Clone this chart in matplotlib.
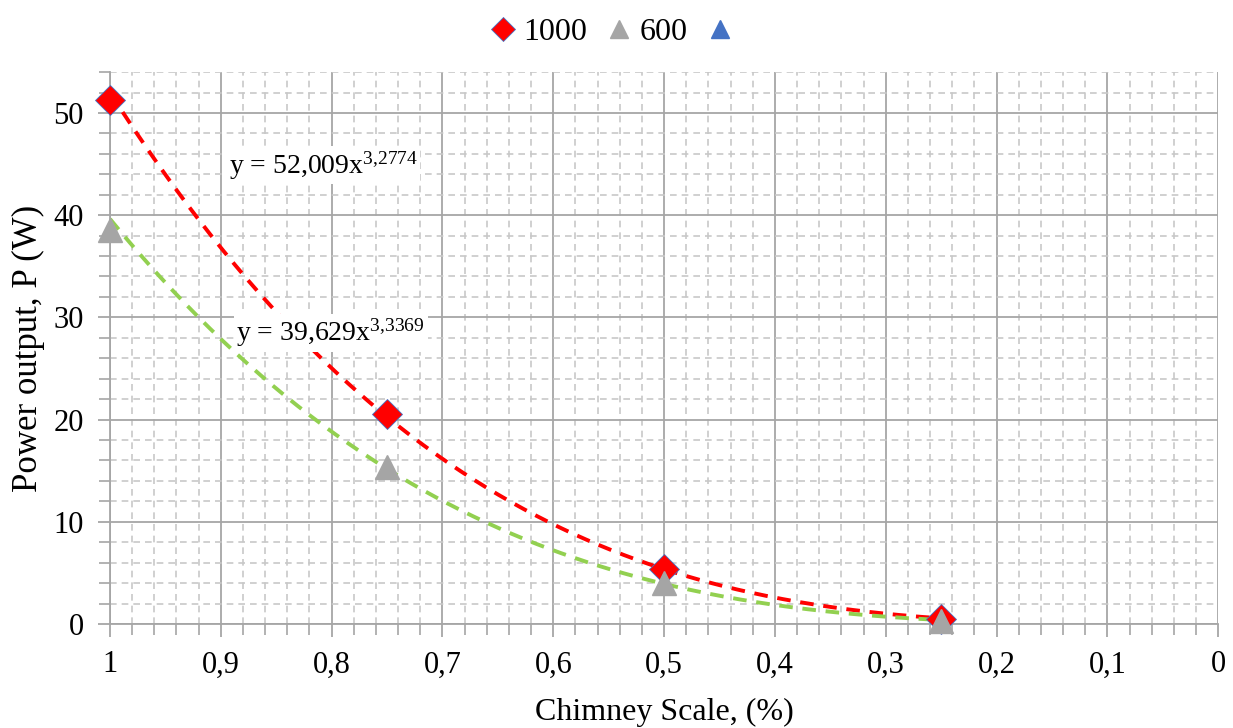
import matplotlib.pyplot as plt
import numpy as np
from matplotlib.ticker import MultipleLocator, FuncFormatter

plt.rcParams['font.family'] = ['Liberation Serif', 'DejaVu Serif']
plt.rcParams['mathtext.fontset'] = 'custom'
plt.rcParams['mathtext.rm'] = 'Liberation Serif'
plt.rcParams['mathtext.it'] = 'Liberation Serif'

# data
scale = [1.0, 0.75, 0.5, 0.25]
p_1000 = [51.3, 20.5, 5.4, 0.5]
p_600 = [38.5, 15.4, 4.0, 0.3]

# fitted power trendlines (as shown on the chart)
a_1000, b_1000 = 52.009, 3.2774
a_600, b_600 = 39.629, 3.3369

fig = plt.figure(figsize=(12.33, 7.28), dpi=100)
ax = fig.add_axes([0.0892, 0.1429, 0.8988, 0.7581])

xs = np.linspace(1.0, 0.25, 200)
ax.plot(xs, a_1000 * xs ** b_1000, color='#FF0000', lw=2.8, ls=(0, (3.5, 2.5)), zorder=3)
ax.plot(xs, a_600 * xs ** b_600, color='#92D050', lw=2.8, ls=(0, (3.5, 2.5)), zorder=3)

ax.plot(scale, p_1000, ls='none', marker='D', ms=15, color='#FF0000',
        mec='#4472C4', mew=0.6, label='1000', zorder=4, clip_on=False)
ax.plot(scale, p_600, ls='none', marker='^', ms=17, color='#A5A5A5',
        mec='#A5A5A5', label='600', zorder=5, clip_on=False)
ax.plot([], [], ls='none', marker='^', ms=17, color='#4472C4', label=' ')

ax.text(0.893, 44.1, r'y = 52,009x$^{\mathregular{3{,}2774}}$', fontsize=20, zorder=6,
        bbox=dict(facecolor='white', edgecolor='none', pad=2))
ax.text(0.886, 27.7, r'y = 39,629x$^{\mathregular{3{,}3369}}$', fontsize=20, zorder=6,
        bbox=dict(facecolor='white', edgecolor='none', pad=2))

ax.set_xlim(1.0, 0.0)
ax.set_ylim(0, 54)
ax.xaxis.set_major_locator(MultipleLocator(0.1))
ax.xaxis.set_minor_locator(MultipleLocator(0.02))
ax.yaxis.set_major_locator(MultipleLocator(10))
ax.yaxis.set_minor_locator(MultipleLocator(2))
ax.xaxis.set_major_formatter(FuncFormatter(lambda v, p: ('%g' % round(v, 2)).replace('.', ',')))

ax.grid(which='major', color='#A6A6A6', lw=1.3)
ax.grid(which='minor', color='#C8C8C8', lw=1.2, ls=(0, (4, 3)))
ax.set_axisbelow(True)
for s in ['top', 'right']:
    ax.spines[s].set_visible(False)
for s in ['left', 'bottom']:
    ax.spines[s].set_color('#A6A6A6')
    ax.spines[s].set_linewidth(1.3)
ax.tick_params(which='both', direction='out', color='#A6A6A6', labelsize=22)
ax.tick_params(which='major', length=9, width=1.3, pad=10)
ax.tick_params(which='minor', length=8, width=1.2)

ax.set_xlabel('Chimney Scale, (%)', fontsize=23, labelpad=13)
ax.set_ylabel('Power output, P (W)', fontsize=25, labelpad=6)

fig.legend(loc='upper center', bbox_to_anchor=(0.501, 1.015), ncol=3, frameon=False,
           fontsize=23, handlelength=1.0, handletextpad=0.15, columnspacing=0.5,
           markerscale=0.8)

plt.savefig('out.png')
